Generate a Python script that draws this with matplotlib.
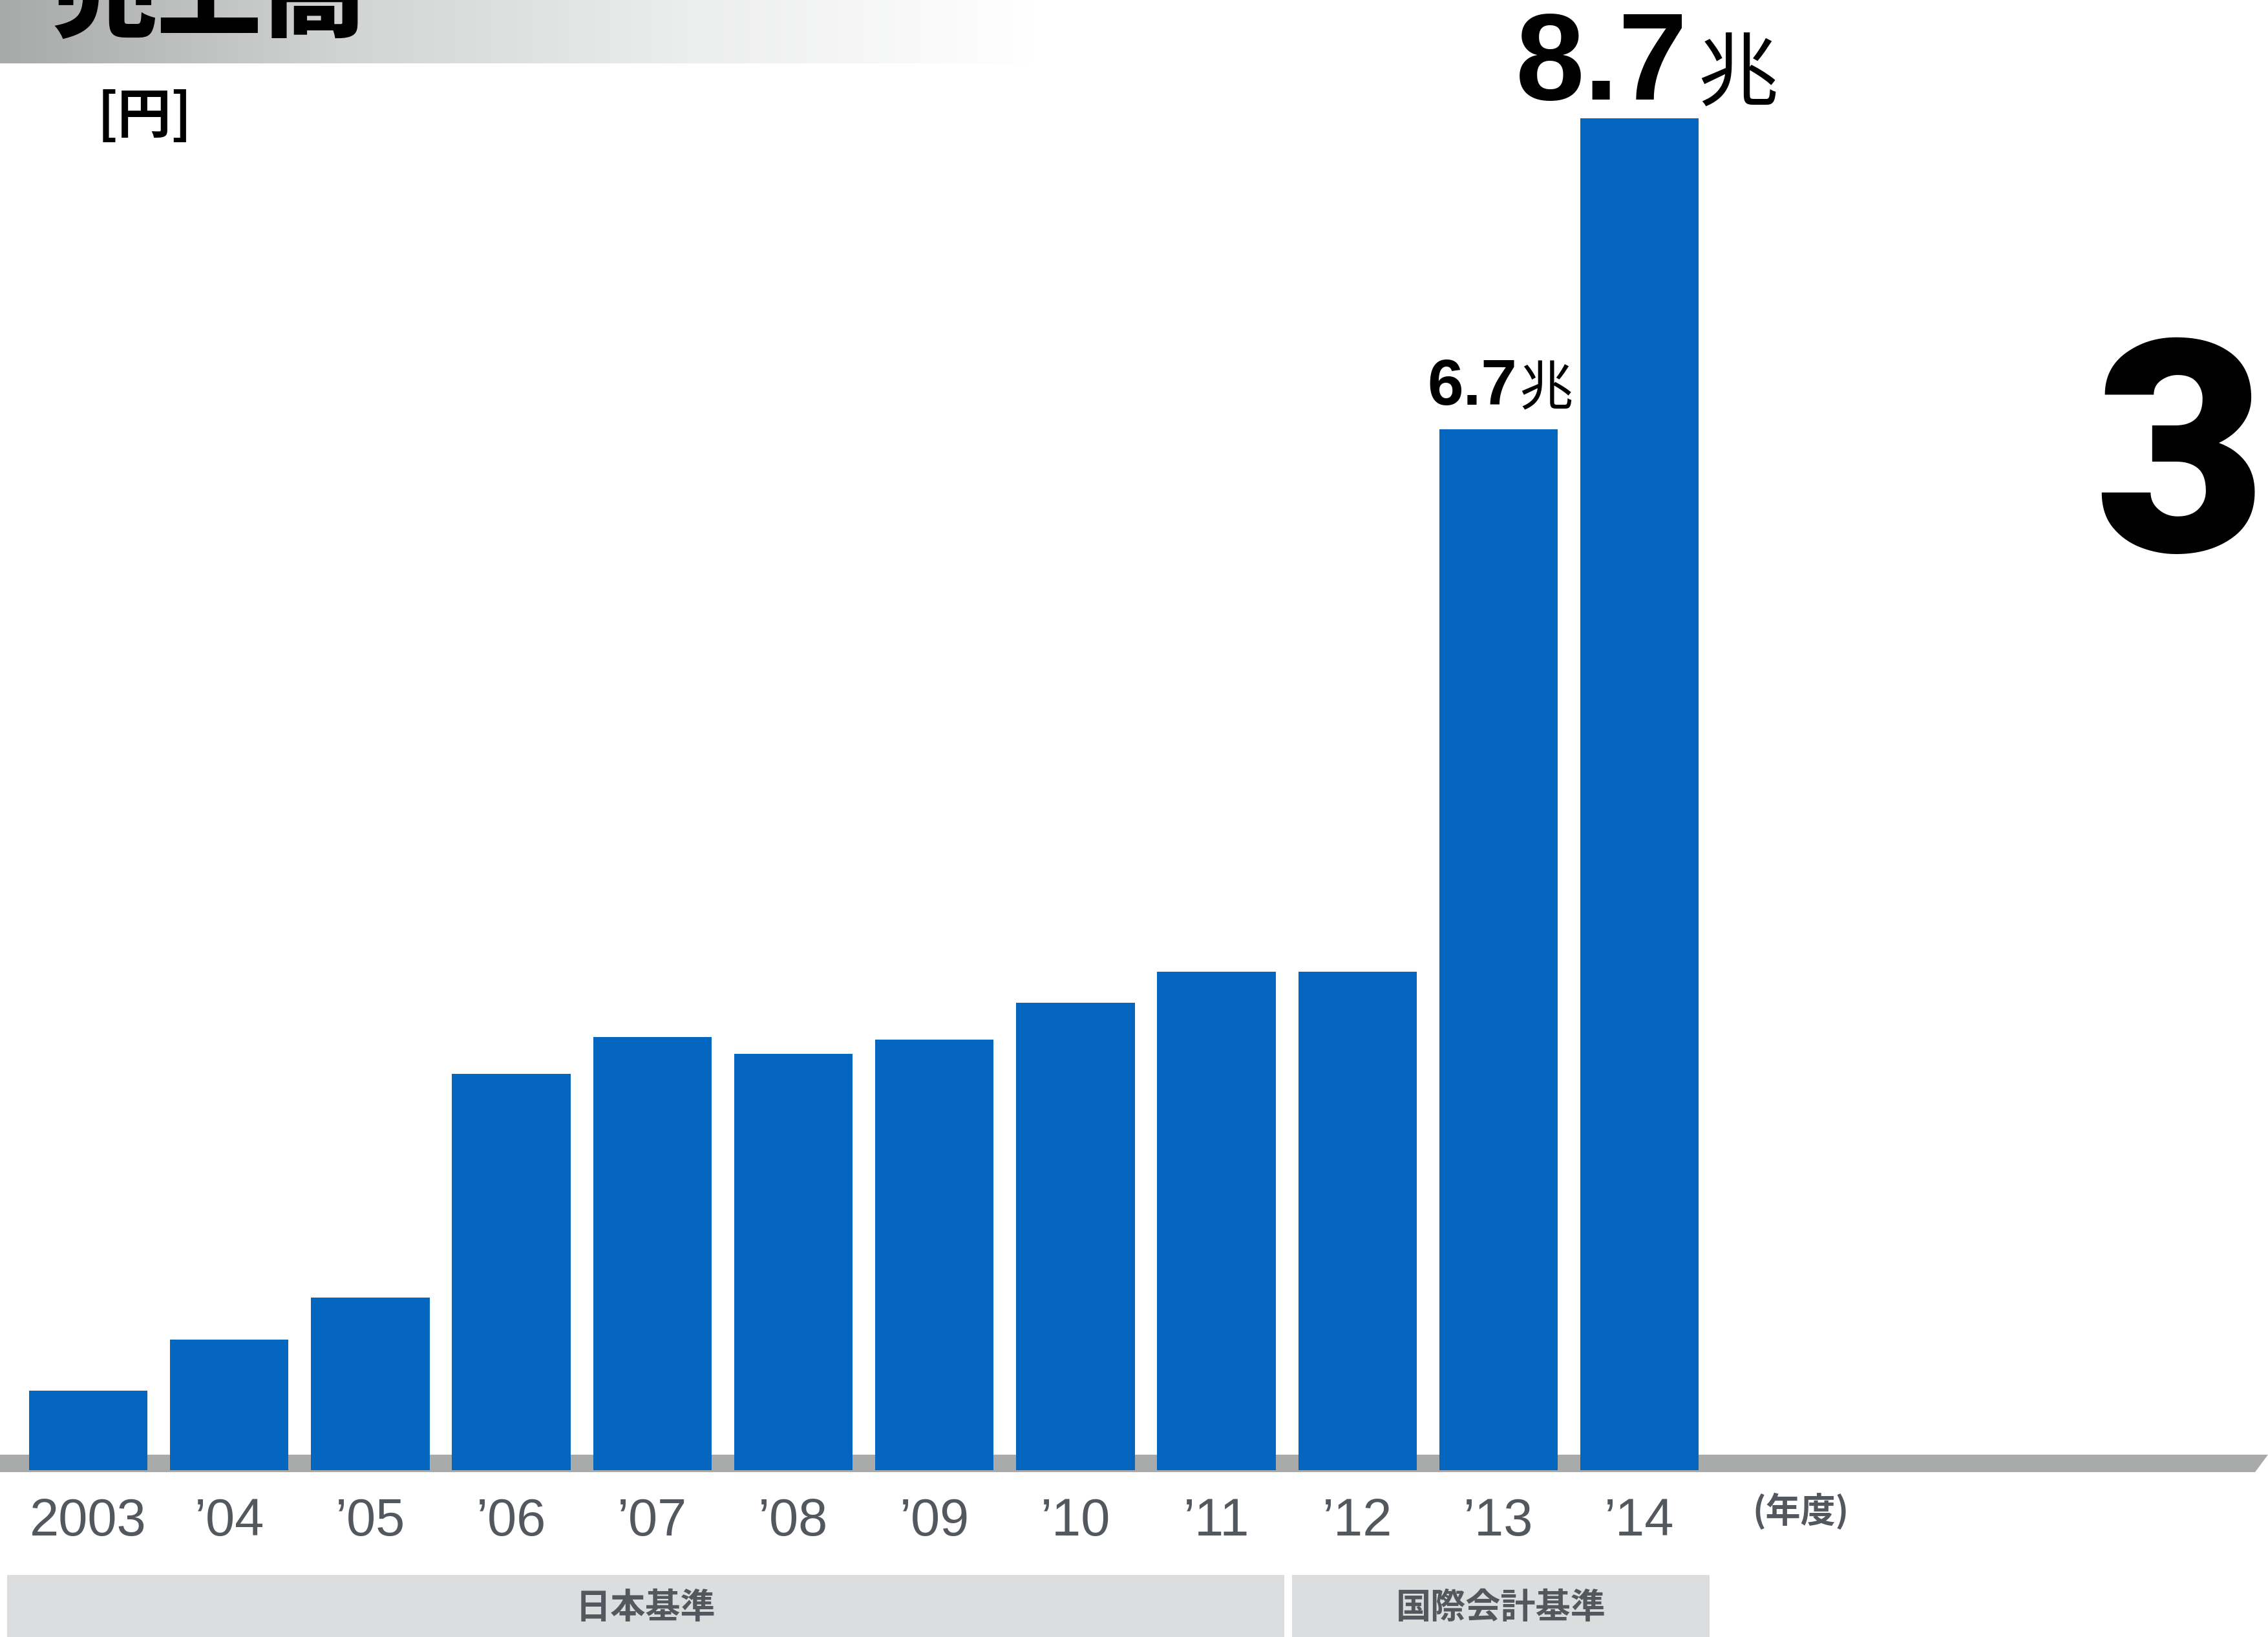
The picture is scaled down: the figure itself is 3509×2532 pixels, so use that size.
import numpy as np
import matplotlib.pyplot as plt
from matplotlib.patches import Polygon, Rectangle
import matplotlib.transforms as mtransforms

# データ（兆円）
years = ["2003", "’04", "’05", "’06", "’07", "’08", "’09", "’10", "’11", "’12", "’13", "’14"]
sales = [0.51, 0.84, 1.11, 2.55, 2.79, 2.68, 2.77, 3.01, 3.21, 3.21, 6.70, 8.70]
groups = ["日本基準", "国際会計基準"]

BLUE = "#0566C0"
GRAY_TXT = "#53585F"
JP = ["Noto Sans CJK JP", "DejaVu Sans"]
LAT = ["Liberation Sans", "Noto Sans CJK JP"]

W, H = 3509, 2532
DPI = 300
fig = plt.figure(figsize=(W / DPI, H / DPI), dpi=DPI)

def fx(px):
    return px / W

def fy(py):
    return 1 - py / H

# タイトル帯（グラデーション）
bg = fig.add_axes([0, fy(98), fx(1600), 98 / H], zorder=0)
grad = np.linspace(0, 1, 256)[None, :]
bg.imshow(grad, cmap=plt.matplotlib.colors.LinearSegmentedColormap.from_list(
    "g", ["#A8A9A9", "#D2D3D3", "#ECEDED", "#FFFFFF"]), aspect="auto", extent=[0, 1, 0, 1])
bg.set_axis_off()

fig.text(fx(80), fy(44), "売上高", fontsize=39, fontweight="black", family=JP,
         ha="left", va="baseline", color="black")
fig.text(fx(224), fy(182), "[円]", fontsize=20, fontweight="bold", family=JP,
         ha="center", va="center", color="black")

# 横の帯（グレーの地面）
band = Polygon([(0, fy(2250)), (1, fy(2250)), (fx(3489), fy(2277)), (0, fy(2277))],
               closed=True, transform=fig.transFigure, facecolor="#A9AAAA",
               edgecolor="none", zorder=1)
fig.patches.append(band)

# 棒グラフ
pitch = 218.2
c0 = 136.5
base = 2274
ppt = 240.3
ax = fig.add_axes([0, fy(base), 1, base / H], zorder=2)
ax.patch.set_alpha(0)
x = np.arange(len(years))
ax.bar(x, sales, width=0.84, color=BLUE, zorder=3)
ax.set_xlim(-c0 / pitch, (W - c0) / pitch)
ax.set_ylim(0, base / ppt)
for s in ax.spines.values():
    s.set_visible(False)
ax.set_yticks([])
ax.set_xticks(x)
ax.set_xticklabels(years, fontsize=19.5, color=GRAY_TXT, family=LAT)
ax.tick_params(axis="x", length=0, pad=10)

trans = mtransforms.blended_transform_factory(ax.transData, fig.transFigure)
ax.text((2786 - c0) / pitch, fy(2339), "(年度)", fontsize=13, fontweight="bold",
        family=JP, color=GRAY_TXT, ha="center", va="center", transform=trans)

# 値ラベル
ax.annotate("8.7", xy=(11, sales[11]), xytext=(18, 7), textcoords="offset points",
            fontsize=46, fontweight="bold", family=LAT, ha="right", va="baseline",
            annotation_clip=False)
ax.annotate("兆", xy=(11, sales[11]), xytext=(21.5, 7), textcoords="offset points",
            fontsize=30, family=JP, ha="left", va="baseline", annotation_clip=False)
ax.annotate("6.7", xy=(10, sales[10]), xytext=(7, 9), textcoords="offset points",
            fontsize=24, fontweight="bold", family=LAT, ha="right", va="baseline",
            annotation_clip=False)
ax.annotate("兆", xy=(10, sales[10]), xytext=(7.5, 9), textcoords="offset points",
            fontsize=20, family=JP, ha="left", va="baseline", annotation_clip=False)

# 会計基準の帯
edges = [(-0.575, 8.481), (8.536, 11.496)]
for name, (l, r) in zip(groups, edges):
    ax.add_patch(Rectangle((l, 0), r - l, (H - 2436) / H, transform=trans,
                           facecolor="#DCDDDF", edgecolor="none", clip_on=False))
    ax.text((l + r) / 2, fy(2488), name, fontsize=13, fontweight="bold", family=JP,
            color=GRAY_TXT, ha="center", va="center", transform=trans)

# 右端の大きな数字
fig.text(fx(3240), fy(853), "3", fontsize=110, fontweight=900,
         family=["Roboto", "DejaVu Sans"], ha="left", va="baseline", color="black")

fig.savefig("out.png", dpi=DPI)
